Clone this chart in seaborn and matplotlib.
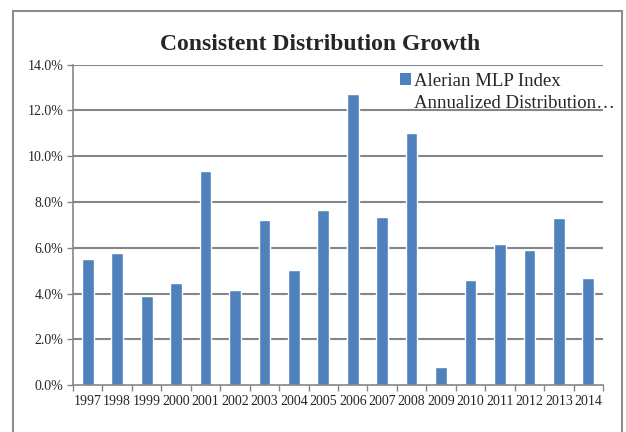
import matplotlib
matplotlib.use("Agg")
import matplotlib.pyplot as plt
import seaborn as sns
import pandas as pd
from matplotlib.patches import Patch, Rectangle
from matplotlib.ticker import FuncFormatter, FixedLocator

years = ["1997", "1998", "1999", "2000", "2001", "2002", "2003", "2004", "2005",
         "2006", "2007", "2008", "2009", "2010", "2011", "2012", "2013", "2014"]
values = [5.52, 5.78, 3.91, 4.47, 9.36, 4.15, 7.20, 5.03, 7.64,
          12.72, 7.35, 11.00, 0.78, 4.58, 6.17, 5.91, 7.31, 4.67]
series_line1 = "Alerian MLP Index"
series_line2 = "Annualized Distribution\u2026"
title = "Consistent Distribution Growth"
y_ticks = [0, 2, 4, 6, 8, 10, 12, 14]

sns.set_style("white")
plt.rcParams["font.family"] = ["Liberation Serif", "DejaVu Serif"]

W, H = 626, 432
fig = plt.figure(figsize=(W / 100, H / 100), dpi=100)
ax = fig.add_axes([73 / W, (H - 385.3) / H, (603 - 73) / W, (385.3 - 64.5) / H])

df = pd.DataFrame({"year": years, "value": values})
bar_color = "#4F81BD"
grid_color = "#868686"

sns.barplot(data=df, x="year", y="value", color=bar_color, width=0.4,
            saturation=1, ax=ax, zorder=3)

ax.set_ylim(0, 14)
ax.set_xlim(-0.5, len(years) - 0.5)
ax.set_yticks(y_ticks)
ax.yaxis.set_major_formatter(FuncFormatter(lambda v, p: f"{v:.1f}%"))
ax.set_xlabel("")
ax.set_ylabel("")

for v in y_ticks[1:]:
    ax.axhline(v, color=grid_color, lw=1.5, zorder=1)

for s in ["top", "right"]:
    ax.spines[s].set_visible(False)
for s in ["left", "bottom"]:
    ax.spines[s].set_color(grid_color)
    ax.spines[s].set_linewidth(1.2)
    ax.spines[s].set_zorder(4)

ax.tick_params(axis="y", which="major", direction="out", length=4, width=1,
               color=grid_color, labelsize=10, pad=3, left=True)
ax.tick_params(axis="x", which="major", length=0, labelsize=10, pad=7)
ax.xaxis.set_minor_locator(FixedLocator([i - 0.5 for i in range(len(years) + 1)]))
ax.tick_params(axis="x", which="minor", direction="out", length=4, width=1,
               color=grid_color, bottom=True)

handles = [Patch(facecolor=bar_color, edgecolor="none"),
           Patch(facecolor="none", edgecolor="none")]
leg = fig.legend(handles, [series_line1, series_line2], loc="upper left",
                 bbox_to_anchor=(400 / W, 1 - 73 / H), frameon=False,
                 fontsize=13.5, handlelength=0.6, handleheight=0.6,
                 handletextpad=0.15, labelspacing=0.25, borderpad=0,
                 borderaxespad=0)

fig.text(320 / W, 1 - 44 / H, title, ha="center", va="center",
         fontsize=17, fontweight="bold")

frame = Rectangle((12.5 / W, -0.05), (621.5 - 12.5) / W, 1.05 - 10.5 / H,
                  transform=fig.transFigure, fill=False, edgecolor="#8c8c8c",
                  lw=1.5, clip_on=False)
fig.patches.append(frame)

fig.savefig("out.png", dpi=100)
